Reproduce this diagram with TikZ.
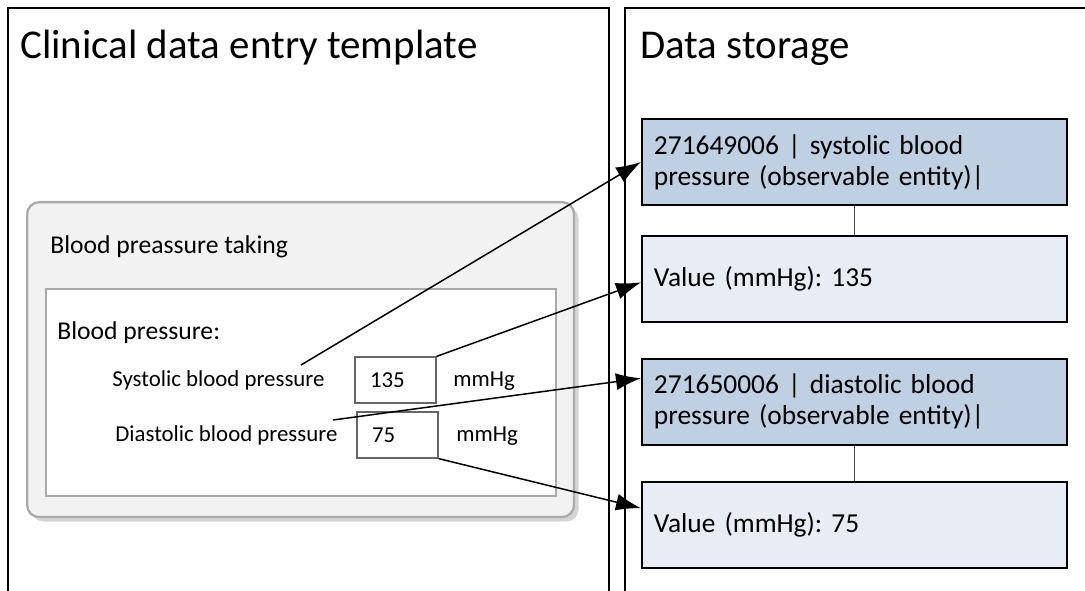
\documentclass[tikz,border=0pt]{standalone}
\usepackage{fontspec}
\setmainfont{Carlito}
\frenchspacing
\usetikzlibrary{arrows.meta,positioning,shadows}

\definecolor{codeblue}{RGB}{190,208,226}
\definecolor{valueblue}{RGB}{232,237,245}
\definecolor{formgray}{RGB}{242,242,242}
\definecolor{framegray}{RGB}{170,170,170}

\tikzset{
  panel/.style={line width=1.1pt},
  heading/.style={anchor=base west, inner sep=0, font=\fontsize{23.3}{27}\selectfont},
  formbox/.style={draw=framegray, line width=1.3pt, fill=formgray, rounded corners=0.24cm,
    anchor=north west, minimum width=10.94cm, minimum height=6.3cm,
    drop shadow={shadow xshift=0.09cm, shadow yshift=-0.09cm, fill=black!16, opacity=1}},
  innerbox/.style={draw=framegray, line width=1pt, fill=white, anchor=north west,
    minimum width=10.2cm, minimum height=4.14cm},
  formtext/.style={anchor=base west, inner sep=0, font=\fontsize{14.6}{17}\selectfont},
  fieldtext/.style={anchor=base west, inner sep=0, font=\fontsize{13}{15}\selectfont},
  fieldbox/.style={draw=black!60, line width=0.7pt, minimum width=1.62cm, minimum height=0.92cm,
    text width=1.02cm, align=left, inner xsep=0.3cm, font=\fontsize{13}{15}\selectfont},
  codebox/.style={draw, line width=1.1pt, fill=codeblue, minimum width=8.5cm, minimum height=1.72cm,
    text width=8.02cm, inner xsep=0.24cm, align=left, font=\fontsize{15.6}{17.6}\selectfont},
  valuebox/.style={codebox, fill=valueblue},
  link/.style={draw=black!70, line width=0.6pt},
  arr/.style={-{Latex[length=0.5cm,width=0.34cm]}, line width=0.85pt}
}

\begin{document}
\begin{tikzpicture}[x=0.02cm,y=-0.02cm]
  \useasboundingbox (0,0) rectangle (1085,591);

  % the two columns
  \draw[panel] (8,591)--(8,8)--(609,8)--(609,591);
  \draw[panel] (625,591)--(625,8)--(1085,8);
  \node[heading] (ttlentry) at (20,59) {Clinical data entry template};
  \node[heading] (ttlstore) at (640,59) {Data storage};

  % entry form
  \node[formbox] (form) at (26,201) {};
  \node[innerbox] (inner) at (45,288) {};
  \node[formtext] (formttl) at (50,254) {Blood preassure taking};
  \node[formtext] (bpttl) at (57,339) {Blood pressure:};
  \node[fieldtext] (sys) at (112,386) {Systolic blood pressure};
  \node[fieldtext] (dia) at (115,441) {Diastolic blood pressure};
  \node[fieldbox] (v135) at (395.5,380) {135};
  \node[fieldbox] (v75) at (397.5,435) {75};
  \node[fieldtext] (unitsys) at (453,386) {mmHg};
  \node[fieldtext] (unitdia) at (456,441) {mmHg};

  % stored entries
  \node[codebox, anchor=north west] (code1) at (641,118) {271649006 | systolic blood\\pressure (observable entity)|};
  \node[valuebox, below=0.58cm of code1] (val1) {Value (mmHg): 135};
  \node[codebox, below=0.7cm of val1] (code2) {271650006 | diastolic blood\\pressure (observable entity)|};
  \node[valuebox, below=0.7cm of code2] (val2) {Value (mmHg): 75};
  \draw[link] (code1) -- (val1);
  \draw[link] (code2) -- (val2);

  % mapping arrows
  \coordinate (sysend) at (301,365);
  \coordinate (diaend) at (333,420);
  \draw[arr] (sysend) -- (code1.west);
  \draw[arr] (v135.north east) -- ([yshift=-0.07cm]val1.west);
  \draw[arr] (diaend) -- ([yshift=0.47cm]code2.west);
  \draw[arr] (v75.south east) -- ([yshift=0.33cm]val2.west);
\end{tikzpicture}
\end{document}
